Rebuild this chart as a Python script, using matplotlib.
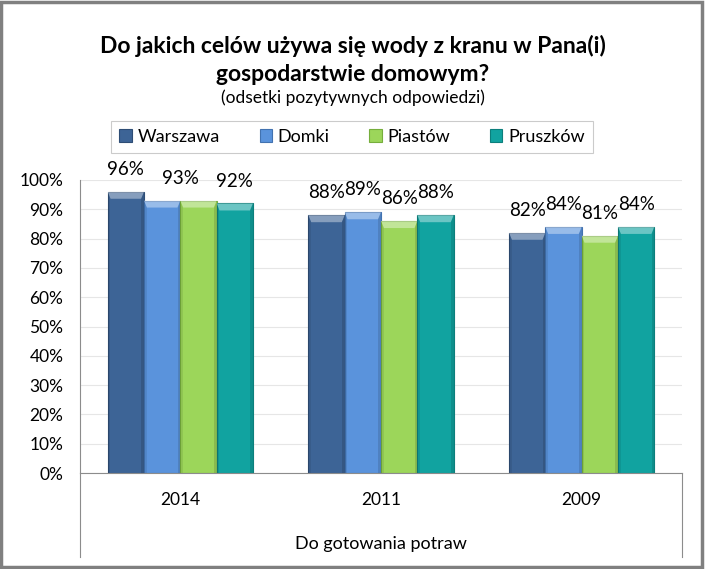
import matplotlib
matplotlib.use("Agg")
import matplotlib.pyplot as plt
import numpy as np
from matplotlib.patches import Rectangle, Polygon
from matplotlib.lines import Line2D

plt.rcParams['font.family'] = ['Lato', 'DejaVu Sans']

years = ["2014", "2011", "2009"]
group_label = "Do gotowania potraw"
series_names = ["Warszawa", "Domki", "Piastów", "Pruszków"]
warszawa = [96, 88, 82]
domki = [93, 89, 84]
piastow = [93, 86, 81]
pruszkow = [92, 88, 84]
series_values = [warszawa, domki, piastow, pruszkow]
colors = ["#3D6496", "#5A93DC", "#9CD65A", "#11A3A0"]
edge_colors = ["#2E4D75", "#4272B0", "#76AE3C", "#0C7F7C"]
yticks = [0, 10, 20, 30, 40, 50, 60, 70, 80, 90, 100]
title = "Do jakich celów używa się wody z kranu w Pana(i)\ngospodarstwie domowym?"
subtitle = "(odsetki pozytywnych odpowiedzi)"

W, H = 705, 569
fig = plt.figure(figsize=(W / 100, H / 100), dpi=100)

ax_l, ax_r, ax_t, ax_b = 80, 682, 180, 473
ax = fig.add_axes([ax_l / W, 1 - ax_b / H, (ax_r - ax_l) / W, (ax_b - ax_t) / H])

x = np.arange(len(years))
bw = 0.181
offsets = (np.arange(len(series_names)) - 1.5) * bw
for i, (name, vals) in enumerate(zip(series_names, series_values)):
    bars = ax.bar(x + offsets[i], vals, width=bw, color=colors[i],
                  edgecolor=edge_colors[i], linewidth=0.8, label=name, zorder=3)
    for j, b in enumerate(bars):
        bx, bh, bwid = b.get_x(), b.get_height(), b.get_width()
        bev = 2.4
        ax.add_patch(Polygon([[bx, bh], [bx + bwid, bh], [bx + bwid * 0.92, bh - bev],
                              [bx + bwid * 0.08, bh - bev]], closed=True,
                             facecolor="white", alpha=0.38, lw=0, zorder=4))
        ax.add_patch(Polygon([[bx + bwid, bh], [bx + bwid, 0], [bx + bwid * 0.93, 0],
                              [bx + bwid * 0.93, bh - bev]], closed=True,
                             facecolor="black", alpha=0.12, lw=0, zorder=4))
        ax.add_patch(Polygon([[bx, bh], [bx, 0], [bx + bwid * 0.07, 0],
                              [bx + bwid * 0.07, bh - bev]], closed=True,
                             facecolor="black", alpha=0.08, lw=0, zorder=4))

# data labels
for j in range(len(years)):
    for i, vals in enumerate(series_values):
        xc = x[j] + offsets[i]
        v = vals[j]
        # equal neighbouring labels in 2014 (Domki & Piastów) shown once between the bars
        if j == 0 and i == 2 and series_values[1][0] == v:
            continue
        if j == 0 and i == 1 and series_values[2][0] == v:
            xc = x[j] + (offsets[1] + offsets[2]) / 2
        ax.annotate(f"{v}%", (xc, v), xytext=(0, 10), textcoords="offset points",
                    ha="center", va="bottom", fontsize=13.5, color="#000000", zorder=6)

ax.set_xlim(-0.5, 2.5)
ax.set_ylim(0, 100)
ax.set_yticks(yticks)
ax.set_yticklabels([f"{t}%" for t in yticks], fontsize=12.5)
ax.set_xticks(x)
ax.set_xticklabels(years, fontsize=12.5)
ax.tick_params(axis="y", length=0, pad=12)
ax.tick_params(axis="x", length=0, pad=14)
ax.grid(axis="y", color="#E6E6E6", linewidth=0.8, zorder=0)
for s in ["top", "right"]:
    ax.spines[s].set_visible(False)
ax.spines["left"].set_color("#8C8C8C")
ax.spines["bottom"].set_color("#8C8C8C")
ax.spines["left"].set_zorder(5)
ax.spines["bottom"].set_zorder(5)

# category box below axis
ext = (ax_b - 557) / (ax_b - ax_t)
ax.add_line(Line2D([0, 0], [0, ext], transform=ax.transAxes, color="#8C8C8C",
                   lw=0.8, clip_on=False))
ax.add_line(Line2D([1, 1], [0, ext], transform=ax.transAxes, color="#8C8C8C",
                   lw=0.8, clip_on=False))
fig.text((ax_l + ax_r) / 2 / W, 1 - 544 / H, group_label, ha="center", va="center",
         fontsize=13)

# titles
fig.text(353 / W, 1 - 60 / H, title, ha="center", va="center", fontsize=16.5,
         fontweight="bold", linespacing=1.4)
fig.text(353 / W, 1 - 98 / H, subtitle, ha="center", va="center", fontsize=12.5)

# legend
handles = [Rectangle((0, 0), 1, 1, facecolor=colors[i], edgecolor=edge_colors[i], lw=0.8)
           for i in range(len(series_names))]
leg = fig.legend(handles, series_names, loc="center",
                 bbox_to_anchor=(352 / W, 1 - 137 / H), ncol=4, fontsize=13,
                 frameon=True, fancybox=False, edgecolor="#BFBFBF",
                 handlelength=0.7, handleheight=0.7, handletextpad=0.3,
                 columnspacing=2.2, borderpad=0.45, borderaxespad=0)
leg.get_frame().set_linewidth(0.8)

# outer border
fig.add_artist(Rectangle((0.002, 0.003), 0.994, 0.994, transform=fig.transFigure,
                         fill=False, edgecolor="#808080", lw=2.5))

fig.savefig("out.png", dpi=100)
